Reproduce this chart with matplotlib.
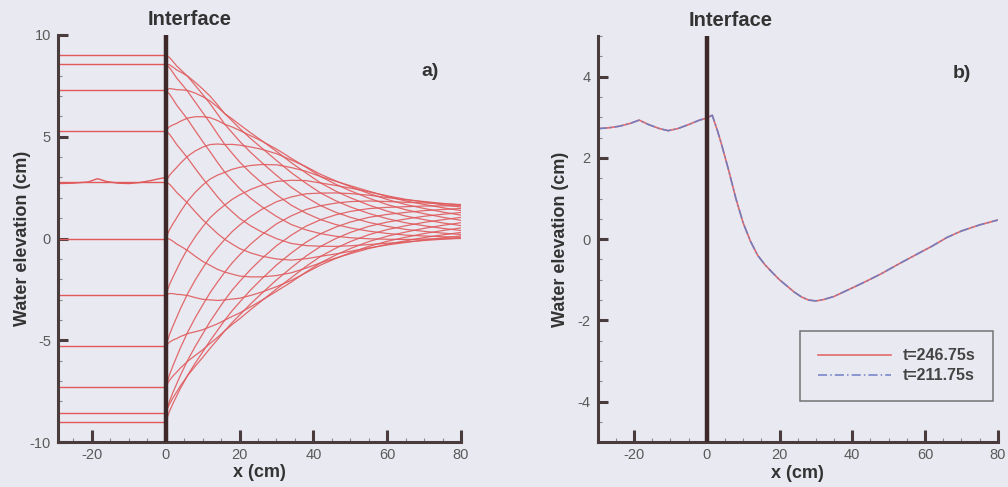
import numpy as np
import matplotlib.pyplot as plt
from matplotlib.ticker import MultipleLocator

plt.rcParams['font.family'] = ['Liberation Sans', 'DejaVu Sans']
plt.rcParams['axes.unicode_minus'] = False

bg = '#e9e9f1'
axis_col = '#4a3c3c'
wall_col = '#3c2828'
red = '#e05a5c'

# --- panel a: snapshots over one tidal period -------------------------------
# still-water levels in the basin (x < 0), one per distinct snapshot
basin_x = [-29.2, 0.0]
basin_levels = [9.0, 8.56, 7.28, 5.29, 2.78, 0.0, -2.78, -5.29, -7.28, -8.56, -9.0]
# one of the 2.78 cm snapshots carries a small ripple
ripple_x = [-29.2, -25, -21, -18.5, -16, -13, -10, -7, -4, -2, 0]
ripple_y = [2.70, 2.72, 2.78, 2.94, 2.80, 2.72, 2.70, 2.75, 2.85, 2.93, 3.00]

# snapshot phases (deg) over the period
snap_phase = [0, 18, 36, 54, 72, 90, 108, 126, 144, 162,
              180, 198, 216, 234, 252, 270, 288, 306, 324, 342]

# envelope of the channel elevation (x > 0) and phase lag along the channel
chan_x = [0, 1, 2, 3, 4, 5, 6, 8, 10, 12, 14, 16, 18, 20, 23, 26,
          30, 34, 38, 42, 46, 50, 55, 60, 65, 70, 75, 80]
env_top = [9.0, 8.9, 8.7, 8.5, 8.35, 8.2, 8.05, 7.7, 7.35, 7.0, 6.6, 6.2, 5.9, 5.6,
           5.2, 4.85, 4.4, 3.95, 3.55, 3.15, 2.85, 2.6, 2.33, 2.1, 1.93, 1.82, 1.73, 1.67]
env_bot = [-9.0, -8.5, -8.1, -7.75, -7.4, -7.1, -6.8, -6.3, -5.85, -5.4, -5.0, -4.6,
           -4.25, -3.95, -3.5, -3.1, -2.6, -2.15, -1.7, -1.3, -1.0, -0.75, -0.5,
           -0.32, -0.2, -0.1, -0.04, 0.0]
lag_deg = [0, 1.5, 3, 4.6, 6.2, 7.8, 9.5, 13, 16.5, 20, 23.5, 27, 30.5, 34,
           39, 44, 51, 58, 65, 72, 79, 86, 95, 104, 113, 122, 131, 140]

# --- panel b: one profile at two times one period apart ---------------------
prof_x = [-30, -27, -24, -21, -18.6, -16, -13, -10.6, -8, -5, -2, 0, 1.5, 3, 4,
          6, 8, 10, 12, 14, 16, 18, 20, 22, 24, 26, 28, 30, 32, 35, 40, 44, 48,
          53, 58, 62, 66, 70, 75, 80]
eta_246 = [2.72, 2.74, 2.78, 2.85, 2.93, 2.82, 2.72, 2.67, 2.72, 2.82, 2.93, 2.98,
           3.05, 2.65, 2.35, 1.7, 1.0, 0.4, -0.05, -0.4, -0.63, -0.82, -1.0,
           -1.15, -1.3, -1.42, -1.5, -1.52, -1.49, -1.41, -1.2, -1.03, -0.85,
           -0.6, -0.36, -0.17, 0.04, 0.2, 0.35, 0.47]
eta_211 = [2.72, 2.74, 2.78, 2.85, 2.93, 2.82, 2.72, 2.67, 2.72, 2.82, 2.93, 2.98,
           3.05, 2.65, 2.35, 1.7, 1.0, 0.4, -0.05, -0.4, -0.63, -0.82, -1.0,
           -1.15, -1.3, -1.42, -1.5, -1.52, -1.49, -1.41, -1.2, -1.03, -0.85,
           -0.6, -0.36, -0.17, 0.04, 0.2, 0.35, 0.47]

fig = plt.figure(figsize=(10.08, 4.87), dpi=100, facecolor=bg)
ax1 = fig.add_axes([58 / 1008, 45 / 487, 403 / 1008, 407 / 487])
ax2 = fig.add_axes([597.7 / 1008, 44.7 / 487, 400 / 1008, 406.3 / 487])


def style_axes(ax, ylabelpad):
    ax.set_facecolor(bg)
    for s in ('top', 'right'):
        ax.spines[s].set_visible(False)
    for s in ('left', 'bottom'):
        ax.spines[s].set_color(axis_col)
        ax.spines[s].set_linewidth(2.2)
    ax.tick_params(which='major', direction='in', color=axis_col, width=2.2,
                   labelsize=10.5, labelcolor='#5a5a5a')
    ax.tick_params(axis='x', which='major', length=9, pad=4)
    ax.tick_params(axis='y', which='major', length=7, pad=5)
    ax.tick_params(which='minor', direction='in', length=3, width=0.8, color='#8a8a8a')
    ax.xaxis.set_major_locator(MultipleLocator(20))
    ax.xaxis.set_minor_locator(MultipleLocator(5))
    ax.set_xlabel('x (cm)', fontsize=13, fontweight='bold', color='#333333', labelpad=2)
    ax.set_ylabel('Water elevation (cm)', fontsize=13, fontweight='bold',
                  color='#333333', labelpad=ylabelpad)
    ax.axvline(0, color=wall_col, lw=3.2, zorder=5)
    ax.text(6.5, 1.038, 'Interface', transform=ax.get_xaxis_transform(),
            ha='center', va='center', fontsize=14.5, fontweight='bold', color='#333333')


# panel a
style_axes(ax1, -1)
ax1.set_xlim(-29.2, 80)
ax1.set_ylim(-10, 10)
ax1.yaxis.set_major_locator(MultipleLocator(5))
ax1.yaxis.set_minor_locator(MultipleLocator(1))

for lev in basin_levels:
    ax1.plot(basin_x, [lev, lev], color=red, lw=1.0)
ax1.plot(ripple_x, ripple_y, color=red, lw=1.0)

cx = np.array(chan_x)
mid = (np.array(env_top) + np.array(env_bot)) / 2
half = (np.array(env_top) - np.array(env_bot)) / 2
lag = np.radians(lag_deg)
for ph in snap_phase:
    ax1.plot(cx, mid + half * np.cos(np.radians(ph) - lag), color=red, lw=0.9, alpha=0.9)

ax1.text(71.5, 8.2, 'a)', ha='center', va='center', fontsize=14, fontweight='bold',
         color='#333333')

# panel b
style_axes(ax2, 6.5)
ax2.set_xlim(-30, 80)
ax2.set_ylim(-5, 5)
ax2.yaxis.set_major_locator(MultipleLocator(2))
ax2.yaxis.set_minor_locator(MultipleLocator(0.5))

ax2.plot(prof_x, eta_246, color='#e26a6a', lw=1.2, label='t=246.75s')
ax2.plot(prof_x, eta_211, color='#6f7fc4', lw=1.1, dashes=(6, 2, 1, 2), label='t=211.75s')

ax2.text(70.2, 4.07, 'b)', ha='center', va='center', fontsize=14, fontweight='bold',
         color='#333333')

leg = ax2.legend(loc='lower right', bbox_to_anchor=(0.988, 0.102), borderaxespad=0,
                 fancybox=False, facecolor='none', edgecolor='#555555',
                 prop={'weight': 'bold', 'size': 11.5}, handlelength=4.6,
                 handletextpad=0.7, labelspacing=0.3, borderpad=1.1)
leg.get_frame().set_linewidth(1.1)
for t in leg.get_texts():
    t.set_color('#444444')

fig.savefig('out.png', dpi=100, facecolor=bg)
